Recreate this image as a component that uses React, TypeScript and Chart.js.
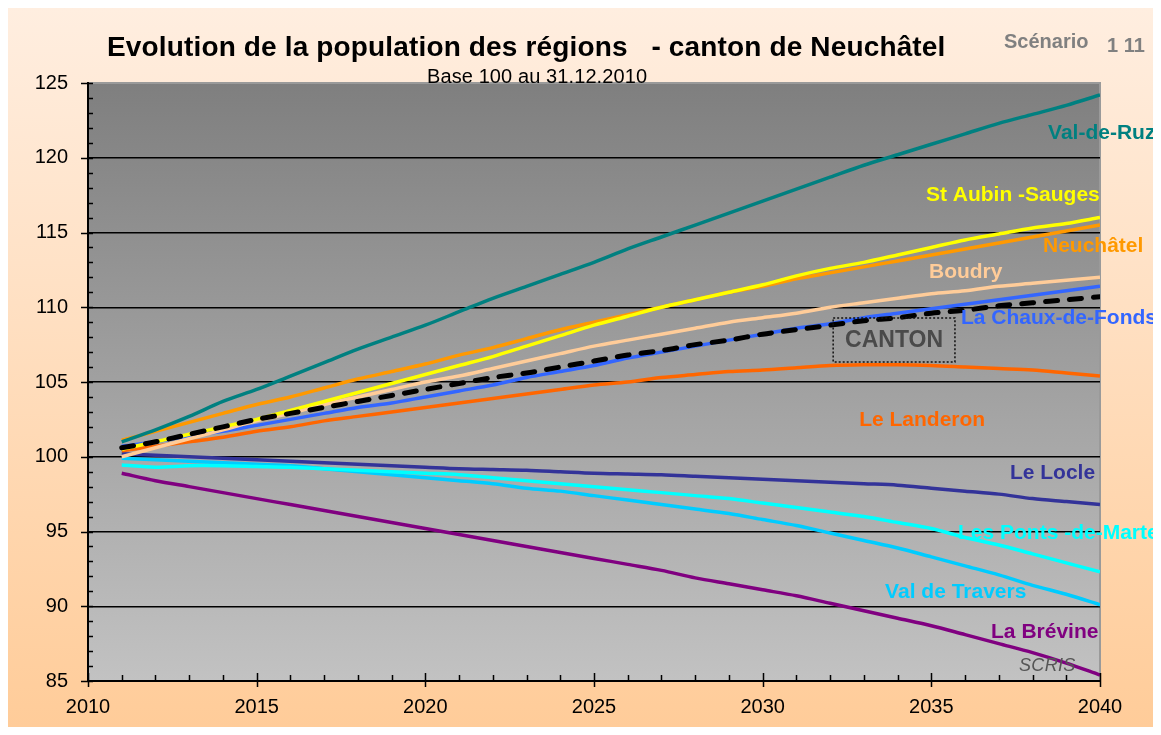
import React, { useEffect, useRef } from 'react';
import { Chart, registerables } from 'chart.js';

Chart.register(...registerables);

const years = [2011, 2012, 2013, 2014, 2015, 2016, 2017, 2018, 2019, 2020, 2021, 2022, 2023, 2024, 2025, 2026, 2027, 2028, 2029, 2030, 2031, 2032, 2033, 2034, 2035, 2036, 2037, 2038, 2039, 2040];

const canton = [100.6, 101.0, 101.5, 102.0, 102.5, 102.9, 103.3, 103.7, 104.1, 104.5, 104.9, 105.3, 105.6, 106.0, 106.4, 106.8, 107.1, 107.5, 107.8, 108.2, 108.5, 108.8, 109.1, 109.3, 109.6, 109.8, 110.1, 110.3, 110.5, 110.7];
const valDeRuz = [101.0, 101.8, 102.7, 103.7, 104.5, 105.4, 106.3, 107.2, 108.0, 108.8, 109.7, 110.6, 111.4, 112.2, 113.0, 113.9, 114.7, 115.5, 116.3, 117.1, 117.9, 118.7, 119.5, 120.2, 120.9, 121.6, 122.3, 122.9, 123.5, 124.2];
const stAubin = [100.5, 101.0, 101.5, 102.0, 102.5, 103.1, 103.7, 104.3, 104.9, 105.5, 106.1, 106.7, 107.4, 108.1, 108.8, 109.4, 110.0, 110.5, 111.0, 111.5, 112.1, 112.6, 113.0, 113.5, 114.0, 114.5, 114.9, 115.3, 115.6, 116.0];
const neuchatel = [101.1, 101.7, 102.3, 102.9, 103.5, 104.0, 104.6, 105.2, 105.7, 106.2, 106.8, 107.3, 107.9, 108.5, 109.0, 109.5, 110.0, 110.5, 111.0, 111.4, 111.9, 112.3, 112.7, 113.1, 113.5, 113.9, 114.3, 114.7, 115.1, 115.5];
const boudry = [100.0, 100.6, 101.2, 101.8, 102.4, 102.9, 103.5, 104.0, 104.5, 105.0, 105.4, 105.9, 106.4, 106.9, 107.4, 107.8, 108.2, 108.6, 109.0, 109.3, 109.6, 110.0, 110.3, 110.6, 110.9, 111.1, 111.4, 111.6, 111.8, 112.0];
const chauxDeFonds = [100.7, 101.0, 101.4, 101.7, 102.1, 102.5, 102.9, 103.3, 103.6, 104.0, 104.4, 104.8, 105.3, 105.7, 106.1, 106.6, 107.0, 107.4, 107.8, 108.2, 108.6, 108.9, 109.3, 109.6, 109.9, 110.2, 110.5, 110.8, 111.1, 111.4];
const landeron = [100.4, 100.7, 101.0, 101.3, 101.7, 102.0, 102.4, 102.7, 103.0, 103.3, 103.6, 103.9, 104.2, 104.5, 104.8, 105.0, 105.3, 105.5, 105.7, 105.8, 105.95, 106.1, 106.15, 106.15, 106.1, 106.0, 105.9, 105.8, 105.6, 105.4];
const locle = [100.2, 100.1, 100.0, 99.9, 99.8, 99.7, 99.6, 99.5, 99.4, 99.3, 99.2, 99.15, 99.1, 99.0, 98.9, 98.85, 98.8, 98.7, 98.6, 98.5, 98.4, 98.3, 98.2, 98.1, 97.9, 97.7, 97.5, 97.2, 97.0, 96.8];
const pontsDeMartel = [99.45, 99.3, 99.4, 99.4, 99.35, 99.3, 99.2, 99.1, 99.0, 98.9, 98.8, 98.6, 98.4, 98.2, 98.0, 97.8, 97.6, 97.4, 97.2, 96.9, 96.6, 96.3, 96.0, 95.6, 95.2, 94.6, 94.1, 93.5, 92.9, 92.3];
const valDeTravers = [99.9, 99.8, 99.7, 99.6, 99.5, 99.4, 99.2, 99.0, 98.8, 98.6, 98.4, 98.2, 97.9, 97.7, 97.4, 97.1, 96.8, 96.5, 96.2, 95.8, 95.4, 94.9, 94.4, 93.9, 93.3, 92.7, 92.1, 91.4, 90.8, 90.1];
const brevine = [98.9, 98.4, 98.0, 97.6, 97.2, 96.8, 96.4, 96.0, 95.6, 95.2, 94.8, 94.4, 94.0, 93.6, 93.2, 92.8, 92.4, 91.9, 91.5, 91.1, 90.7, 90.2, 89.7, 89.2, 88.7, 88.1, 87.5, 86.9, 86.2, 85.4];

const xTicks = [2010, 2015, 2020, 2025, 2030, 2035, 2040];
const yTicks = [85, 90, 95, 100, 105, 110, 115, 120, 125];

const FONT = '"Liberation Sans", Arial, sans-serif';

// label text, colour, anchor (year, value) = left edge / vertical centre
const seriesLabels = [
  { text: 'Val-de-Ruz', color: '#008080', x: 2038.46, y: 121.66 },
  { text: 'St Aubin -Sauges', color: '#FFFF00', x: 2034.84, y: 117.51 },
  { text: 'Neuchâtel', color: '#FF9900', x: 2038.31, y: 114.1 },
  { text: 'Boudry', color: '#FFCC99', x: 2034.93, y: 112.36 },
  { text: 'La Chaux-de-Fonds', color: '#3366FF', x: 2035.88, y: 109.28 },
  { text: 'Le Landeron', color: '#FF6600', x: 2032.86, y: 102.46 },
  { text: 'Le Locle', color: '#333399', x: 2037.33, y: 98.91 },
  { text: 'Les Ponts -de-Martel', color: '#00FFFF', x: 2035.79, y: 94.9 },
  { text: 'Val de Travers', color: '#00CCFF', x: 2033.63, y: 90.95 },
  { text: 'La Brévine', color: '#800080', x: 2036.77, y: 88.28 },
];

const decor = {
  id: 'decor',
  beforeDraw(chart: any) {
    const { ctx, chartArea: a, width, height } = chart;
    ctx.save();
    const g = ctx.createLinearGradient(0, 0, 0, height);
    g.addColorStop(0, '#FFEEE0');
    g.addColorStop(1, '#FFCC99');
    ctx.fillStyle = g;
    ctx.fillRect(0, 0, width, height);
    const pg = ctx.createLinearGradient(0, a.top, 0, a.bottom);
    pg.addColorStop(0, '#7F7F7F');
    pg.addColorStop(1, '#C2C2C2');
    ctx.fillStyle = pg;
    ctx.fillRect(a.left, a.top, a.right - a.left, a.bottom - a.top);
    ctx.strokeStyle = '#9A9A9A';
    ctx.lineWidth = 2;
    ctx.beginPath();
    ctx.moveTo(a.left, a.top);
    ctx.lineTo(a.right, a.top);
    ctx.lineTo(a.right, a.bottom);
    ctx.stroke();
    ctx.restore();
  },
  afterDraw(chart: any) {
    const { ctx, chartArea: a, scales } = chart;
    const xs = scales.x;
    const ys = scales.y;
    ctx.save();
    // ticks
    ctx.strokeStyle = '#000';
    ctx.lineWidth = 1.5;
    ctx.beginPath();
    for (let v = 85; v <= 125; v++) {
      const py = Math.round(ys.getPixelForValue(v)) + 0.5;
      if (v % 5 === 0) {
        ctx.moveTo(a.left - 7, py);
        ctx.lineTo(a.left + 5, py);
      } else {
        ctx.moveTo(a.left, py);
        ctx.lineTo(a.left + 5, py);
      }
    }
    for (let yr = 2010; yr <= 2040; yr++) {
      const px = Math.round(xs.getPixelForValue(yr)) + 0.5;
      if (yr % 5 === 0) {
        ctx.moveTo(px, a.bottom - 8);
        ctx.lineTo(px, a.bottom + 6);
      } else {
        ctx.moveTo(px, a.bottom - 6);
        ctx.lineTo(px, a.bottom);
      }
    }
    ctx.stroke();

    // series labels
    ctx.textBaseline = 'middle';
    ctx.textAlign = 'left';
    ctx.font = `bold 21px ${FONT}`;
    (ctx as any).letterSpacing = '0px';
    for (const l of seriesLabels) {
      ctx.fillStyle = l.color;
      ctx.fillText(l.text, xs.getPixelForValue(l.x), ys.getPixelForValue(l.y));
    }

    // CANTON box
    const bx1 = xs.getPixelForValue(2032.09);
    const bx2 = xs.getPixelForValue(2035.7);
    const by1 = ys.getPixelForValue(109.28);
    const by2 = ys.getPixelForValue(106.34);
    ctx.setLineDash([2, 2]);
    ctx.strokeStyle = '#111';
    ctx.lineWidth = 1.5;
    ctx.strokeRect(bx1, by1, bx2 - bx1, by2 - by1);
    ctx.setLineDash([]);
    ctx.fillStyle = '#4A4A4A';
    ctx.textAlign = 'center';
    ctx.font = `bold 23px ${FONT}`;
    ctx.fillText('CANTON', (bx1 + bx2) / 2, (by1 + by2) / 2 + 1);

    // SCRIS
    ctx.textAlign = 'left';
    ctx.font = `italic 18px ${FONT}`;
    (ctx as any).letterSpacing = '0.3px';
    ctx.fillStyle = '#555555';
    ctx.fillText('SCRIS', xs.getPixelForValue(2037.6), ys.getPixelForValue(86.0));

    // title
    ctx.fillStyle = '#000';
    ctx.textAlign = 'left';
    ctx.font = `bold 28px ${FONT}`;
    (ctx as any).letterSpacing = '0.15px';
    ctx.fillText('Evolution de la population des régions   - canton de Neuchâtel', 99, 40);
    ctx.font = `20px ${FONT}`;
    (ctx as any).letterSpacing = '0.1px';
    ctx.fillText('Base 100 au 31.12.2010', 419, 69);
    ctx.fillStyle = '#808080';
    ctx.font = `bold 20px ${FONT}`;
    (ctx as any).letterSpacing = '0px';
    ctx.fillText('Scénario', 996, 34);
    ctx.font = `bold 20px ${FONT}`;
    ctx.fillText('1 11', 1099, 38);
    ctx.restore();
  },
};

const mk = (label: string, data: number[], color: string, extra: any = {}) => ({
  label,
  data: data.map((v, i) => ({ x: years[i], y: v })),
  borderColor: color,
  backgroundColor: color,
  borderWidth: 3.5,
  pointRadius: 0,
  tension: 0.3,
  fill: false,
  ...extra,
});

export default function App() {
  const ref = useRef<HTMLCanvasElement>(null);
  useEffect(() => {
    if (!ref.current) return;
    const chart = new Chart(ref.current, {
      type: 'line',
      data: {
        datasets: [
          mk('CANTON', canton, '#000000', { borderDash: [12, 12], borderWidth: 5, borderCapStyle: 'round' }),
          mk('Val-de-Ruz', valDeRuz, '#008080'),
          mk('St Aubin -Sauges', stAubin, '#FFFF00'),
          mk('Neuchâtel', neuchatel, '#FF9900'),
          mk('Boudry', boudry, '#FFCC99'),
          mk('La Chaux-de-Fonds', chauxDeFonds, '#3366FF'),
          mk('Le Landeron', landeron, '#FF6600'),
          mk('Le Locle', locle, '#333399'),
          mk('Les Ponts-de-Martel', pontsDeMartel, '#00FFFF'),
          mk('Val de Travers', valDeTravers, '#00CCFF'),
          mk('La Brévine', brevine, '#800080'),
        ],
      },
      options: {
        animation: false,
        responsive: false,
        layout: { padding: { top: 75, right: 53, left: 0, bottom: 0 } },
        plugins: { legend: { display: false }, tooltip: { enabled: false }, title: { display: false } },
        scales: {
          x: {
            type: 'linear',
            min: 2010,
            max: 2040,
            afterBuildTicks: (s: any) => { s.ticks = xTicks.map((v) => ({ value: v })); },
            afterFit: (s: any) => { s.height = 46; },
            grid: { drawOnChartArea: false, drawTicks: false },
            border: { display: true, color: '#000', width: 2 },
            ticks: { color: '#000', padding: 14, font: { family: FONT, size: 20 }, maxRotation: 0, autoSkip: false, callback: (v: any) => String(v) },
          },
          y: {
            type: 'linear',
            min: 85,
            max: 125,
            afterBuildTicks: (s: any) => { s.ticks = yTicks.map((v) => ({ value: v })); },
            afterFit: (s: any) => { s.width = 80; },
            grid: {
              drawTicks: false,
              lineWidth: 1.5,
              color: (c: any) => (c.tick && c.tick.value === 125 ? 'rgba(0,0,0,0)' : '#000'),
            },
            border: { display: true, color: '#000', width: 2 },
            ticks: { color: '#000', padding: 20, font: { family: FONT, size: 20 }, autoSkip: false, callback: (v: any) => String(v) },
          },
        },
      },
      plugins: [decor],
    } as any);
    return () => chart.destroy();
  }, []);
  return <canvas ref={ref} width={1145} height={719} style={{ display: 'block' }} />;
}
